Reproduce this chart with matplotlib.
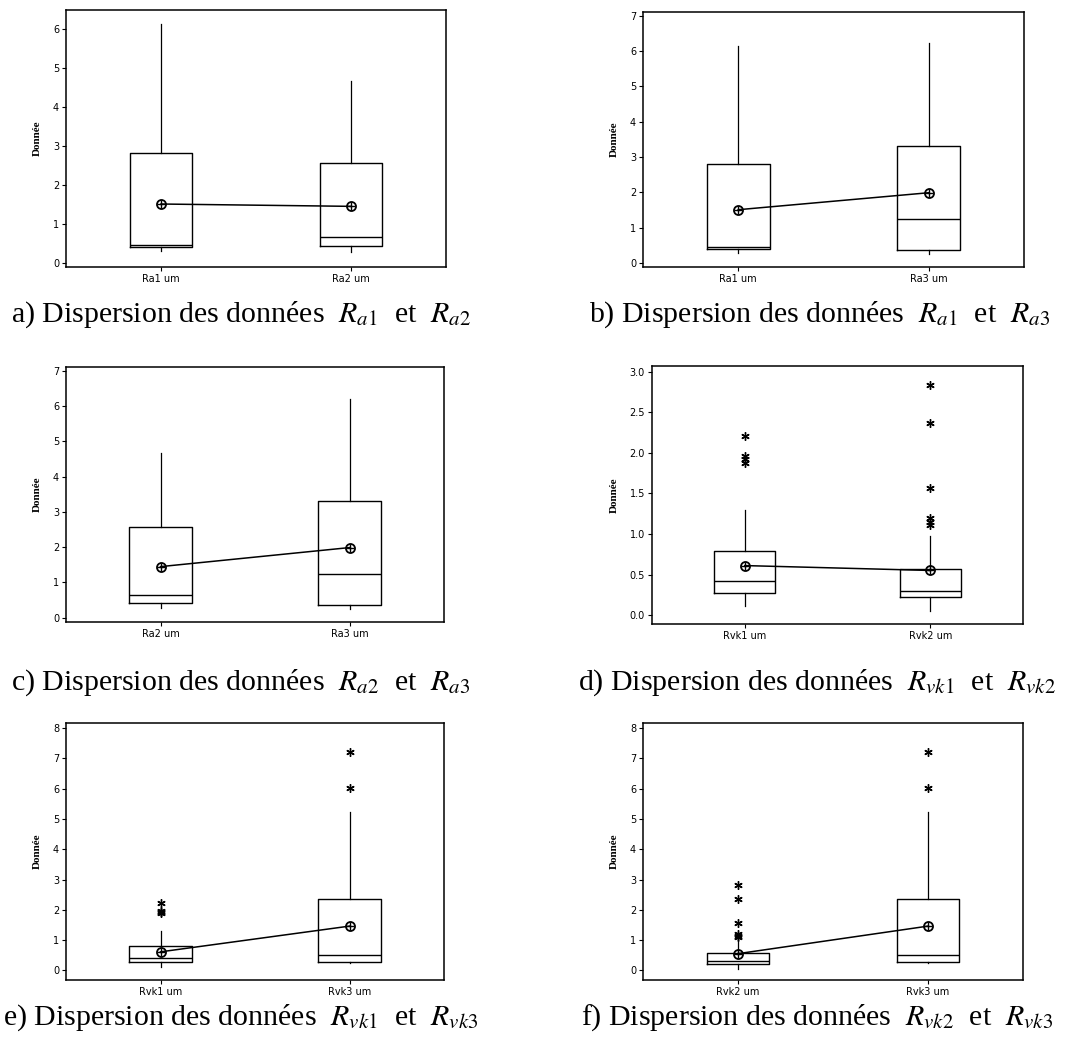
import matplotlib
matplotlib.use("Agg")
import matplotlib.pyplot as plt

plt.rcParams['mathtext.fontset'] = 'stix'

# box statistics per variable: whisker low, Q1, median, Q3, whisker high, mean, outliers
names = ["Ra1", "Ra2", "Ra3", "Rvk1", "Rvk2", "Rvk3"]
whislo = [0.29, 0.28, 0.26, 0.11, 0.05, 0.25]
q1 = [0.40, 0.43, 0.37, 0.27, 0.22, 0.26]
med = [0.45, 0.65, 1.25, 0.42, 0.30, 0.49]
q3 = [2.81, 2.56, 3.30, 0.79, 0.57, 2.34]
whishi = [6.15, 4.67, 6.21, 1.29, 0.97, 5.24]
means = [1.51, 1.45, 1.99, 0.61, 0.55, 1.46]
fliers = [[], [], [], [1.88, 1.92, 1.96, 2.21],
          [1.11, 1.15, 1.20, 1.57, 2.37, 2.83], [6.02, 7.20]]

pairs = [(0, 1), (0, 2), (1, 2), (3, 4), (3, 5), (4, 5)]
captions = [
    r"a) Dispersion des données  $R_{a1}$  et  $R_{a2}$",
    r"b) Dispersion des données  $R_{a1}$  et  $R_{a3}$",
    r"c) Dispersion des données  $R_{a2}$  et  $R_{a3}$",
    r"d) Dispersion des données  $R_{vk1}$  et  $R_{vk2}$",
    r"e) Dispersion des données  $R_{vk1}$  et  $R_{vk3}$",
    r"f) Dispersion des données  $R_{vk2}$  et  $R_{vk3}$",
]
ylims = [(-0.11, 6.5), (-0.11, 7.1), (-0.12, 7.11), (-0.11, 3.07), (-0.32, 8.17), (-0.32, 8.17)]
yticks = [range(0, 7), range(0, 8), range(0, 8), [0, 0.5, 1, 1.5, 2, 2.5, 3], range(0, 9), range(0, 9)]

W, H = 1078, 1055
# axes boxes in pixels: left, top, right, bottom
boxes = [(66, 10, 446, 267), (643, 12, 1024, 267),
         (66, 367, 444, 622), (652, 366, 1023, 624),
         (66, 723, 444, 980), (643, 723, 1023, 980)]
cap_pos = [(241, 322), (820, 322), (241, 690), (817, 690), (241, 1025), (817, 1025)]

fig = plt.figure(figsize=(W / 100, H / 100), dpi=100)

for k, (i, j) in enumerate(pairs):
    l, t, r, b = boxes[k]
    ax = fig.add_axes([l / W, 1 - b / H, (r - l) / W, (b - t) / H])
    stats = []
    for n in (i, j):
        stats.append(dict(whislo=whislo[n], q1=q1[n], med=med[n], q3=q3[n],
                          whishi=whishi[n], fliers=fliers[n], label=names[n] + " um"))
    ax.bxp(stats, positions=[1, 2], widths=0.33, showcaps=False, showfliers=True,
           boxprops=dict(color="black", linewidth=1.0),
           medianprops=dict(color="black", linewidth=1.0),
           whiskerprops=dict(color="black", linewidth=0.9),
           flierprops=dict(marker=(6, 2, 0), markersize=6, markeredgecolor="black",
                           markeredgewidth=1.0, linestyle="none"))
    m = [means[i], means[j]]
    ax.plot([1, 2], m, color="black", linewidth=1.1)
    ax.plot([1, 2], m, "o", markersize=6.5, markerfacecolor="none",
            markeredgecolor="black", markeredgewidth=1.3)
    ax.plot([1, 2], m, "+", markersize=6, markeredgecolor="black", markeredgewidth=1.0)
    ax.set_xlim(0.5, 2.5)
    ax.set_ylim(*ylims[k])
    ax.set_yticks(list(yticks[k]))
    if k == 3:
        ax.set_yticklabels([f"{v:.1f}" for v in yticks[k]])
    ax.tick_params(direction="out", length=3, width=0.8, labelsize=7, pad=2)
    for s in ax.spines.values():
        s.set_linewidth(1.1)
    ax.set_ylabel("Donnée", fontsize=8, fontweight="bold", family="Liberation Serif", labelpad=8)
    cx, cy = cap_pos[k]
    fig.text(cx / W, 1 - cy / H, captions[k], ha="center", va="baseline",
             fontsize=21.5, family="Liberation Serif")

fig.savefig("out.png", dpi=100)
